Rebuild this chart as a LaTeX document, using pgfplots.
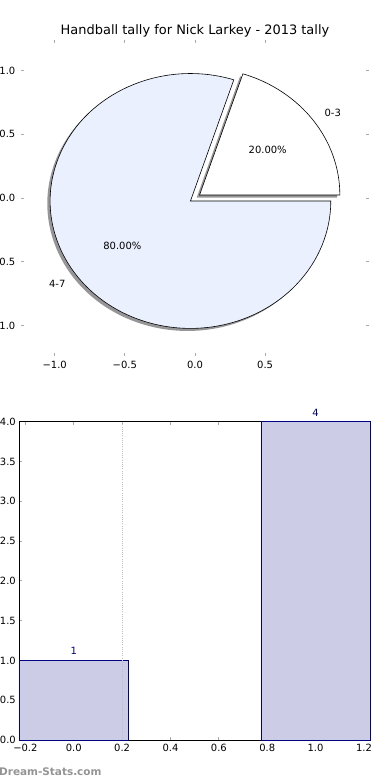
\documentclass[border=0pt]{standalone}
\usepackage{fontspec}
\setmainfont{DejaVu Sans}
\usepackage{pgfplots}
\pgfplotsset{compat=1.18}
\definecolor{pieblue}{RGB}{234,240,253}
\definecolor{navy}{RGB}{0,0,128}
\definecolor{barfill}{RGB}{204,204,230}
\definecolor{shadowgray}{RGB}{150,150,152}
\definecolor{tickgray}{RGB}{170,170,170}
\definecolor{dotgray}{RGB}{190,190,190}
\begin{document}
\begin{tikzpicture}
\path[use as bounding box] (0bp,0bp) rectangle (390bp,780bp);
\clip (0bp,0bp) rectangle (390bp,780bp);
% pie data: counts per category
\def\nA{1}% 0-3
\def\nB{4}% 4-7
\pgfmathsetmacro\angA{360*\nA/(\nA+\nB)}
\pgfmathsetmacro\midA{\angA/2}
\pgfmathsetmacro\midB{(\angA+360)/2}
\pgfmathsetmacro\exA{0.04*cos(\midA)}
\pgfmathsetmacro\eyA{0.04*sin(\midA)}
\pgfmathsetmacro\exB{0.04*cos(\midB)}
\pgfmathsetmacro\eyB{0.04*sin(\midB)}
\pgfmathsetmacro\sxA{\exA-0.02}
\pgfmathsetmacro\syA{\eyA-0.02}
\pgfmathsetmacro\sxB{\exB-0.02}
\pgfmathsetmacro\syB{\eyB-0.02}
\pgfmathsetmacro\lxA{1.1*cos(\midA)+\exA}
\pgfmathsetmacro\lyA{1.1*sin(\midA)+\eyA}
\pgfmathsetmacro\lxB{1.1*cos(\midB)+\exB}
\pgfmathsetmacro\lyB{1.1*sin(\midB)+\eyB}
\pgfmathsetmacro\pxA{0.6*cos(\midA)+\exA}
\pgfmathsetmacro\pyA{0.6*sin(\midA)+\eyA}
\pgfmathsetmacro\pxB{0.6*cos(\midB)+\exB}
\pgfmathsetmacro\pyB{0.6*sin(\midB)+\eyB}
\pgfplotsset{every tick label/.append style={font=\fontsize{10}{12}\selectfont}}
\begin{axis}[at={(21bp,424bp)}, anchor=south west, scale only axis,
  width=348bp, height=316bp,
  xmin=-1.24, xmax=1.24, ymin=-1.24, ymax=1.24,
  axis line style={draw=none},
  tick style={color=tickgray, line width=0.8bp},
  major tick length=3bp, tick align=inside,
  xtick={-1,-0.5,0,0.5}, xticklabels={−1.0,−0.5,0.0,0.5},
  ytick={-1,-0.5,0,0.5,1}, yticklabels={−1.0,−0.5,0.0,0.5,1.0},
  xticklabel style={inner sep=0pt, yshift=-5bp},
  yticklabel style={inner sep=0pt, xshift=-5.5bp},
  clip=false]
\fill[shadowgray] (axis cs:\sxB,\syB) -- ++({\angA}:{140.32bp} and {127.42bp}) arc[start angle=\angA, end angle=360, x radius=140.32bp, y radius=127.42bp] -- cycle;
\fill[shadowgray] (axis cs:\sxA,\syA) -- ++(0:{140.32bp} and {127.42bp}) arc[start angle=0, end angle=\angA, x radius=140.32bp, y radius=127.42bp] -- cycle;
\filldraw[fill=pieblue, draw=black, line width=0.6bp, line join=miter] (axis cs:\exB,\eyB) -- ++({\angA}:{140.32bp} and {127.42bp}) arc[start angle=\angA, end angle=360, x radius=140.32bp, y radius=127.42bp] -- cycle;
\filldraw[fill=white, draw=black, line width=0.6bp, line join=miter] (axis cs:\exA,\eyA) -- ++(0:{140.32bp} and {127.42bp}) arc[start angle=0, end angle=\angA, x radius=140.32bp, y radius=127.42bp] -- cycle;
\node[anchor=west, inner sep=0pt, font=\fontsize{10}{12}\selectfont] at (axis cs:\lxA,\lyA) {0-3};
\node[anchor=east, inner sep=0pt, font=\fontsize{10}{12}\selectfont] at (axis cs:\lxB,\lyB) {4-7};
\node[inner sep=0pt, font=\fontsize{10}{12}\selectfont] at (axis cs:\pxA,\pyA) {20.00\%};
\node[inner sep=0pt, font=\fontsize{10}{12}\selectfont] at (axis cs:\pxB,\pyB) {80.00\%};
\end{axis}
\node[anchor=base, inner sep=0pt, font=\fontsize{13}{15}\selectfont] at (195bp,745.7bp) {Handball tally for Nick Larkey - 2013 tally};
\begin{axis}[at={(19.3bp,40bp)}, anchor=south west, scale only axis,
  width=350.7bp, height=318.3bp,
  xmin=-0.225, xmax=1.225, ymin=0, ymax=4,
  axis line style={black, line width=0.9bp},
  tick style={color=tickgray, line width=0.8bp},
  major tick length=3bp, tick align=inside,
  xtick={-0.2,0,0.2,0.4,0.6,0.8,1.0,1.2},
  xticklabels={−0.2,0.0,0.2,0.4,0.6,0.8,1.0,1.2},
  ytick={0,0.5,1,1.5,2,2.5,3,3.5,4},
  yticklabels={0.0,0.5,1.0,1.5,2.0,2.5,3.0,3.5,4.0},
  xticklabel style={inner sep=0pt, yshift=-4bp},
  yticklabel style={inner sep=0pt, xshift=-3.3bp},
  clip=false]
\addplot[ybar, bar width=0.45, fill=barfill, draw=navy, line width=0.7bp,
  /pgf/number format/assume math mode=true,
  nodes near coords, nodes near coords style={anchor=south, inner sep=0pt, yshift=5.3bp, text=navy, font=\fontsize{10}{12}\selectfont, /pgf/number format/assume math mode=true}]
  coordinates {(0,1) (1,4)};
\addplot[dotgray, line width=0.8bp, dash pattern=on 1bp off 1.2bp] coordinates {(0.2,0) (0.2,4)};
\end{axis}
\node[anchor=base west, inner sep=0pt, text=black!42, font=\fontsize{10.5}{12}\selectfont\bfseries] at (-1bp,5bp) {Dream-Stats.com};
\end{tikzpicture}
\end{document}
